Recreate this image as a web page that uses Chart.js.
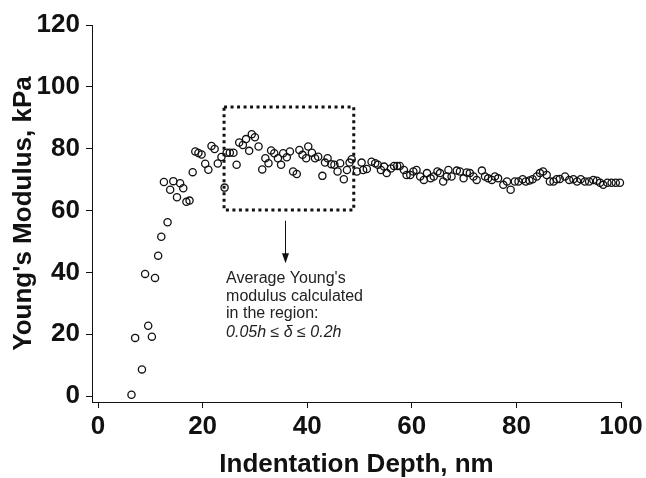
<!DOCTYPE html>
<html>
<head>
<meta charset="utf-8">
<script src="https://cdn.jsdelivr.net/npm/chart.js@4.4.1/dist/chart.umd.min.js"></script>
<style>
html, body { margin: 0; padding: 0; background: #fff; }
</style>
</head>
<body>
<canvas id="myChart" width="646" height="478"></canvas>
<script>
// indentation depth (nm) and Young's modulus (kPa)
const depth = [6.4, 8.4, 7.1, 9.6, 10.3, 9.0, 10.9, 11.5, 12.1, 13.3, 12.6, 13.8, 14.4, 15.1, 15.7, 16.3, 16.9, 17.5, 18.1, 18.6,
  19.2, 19.8, 20.5, 21.1, 21.7, 22.3, 22.9, 23.6, 24.2, 24.6, 25.2, 25.9, 26.5, 27.0, 27.7, 28.3, 28.9, 29.4, 30.0, 30.7,
  31.4, 32.0, 32.6, 33.1, 33.7, 34.4, 35.0, 35.4, 36.1, 36.7, 37.3, 38.0, 38.5, 39.1, 39.8, 40.2, 40.9, 41.5, 42.1, 42.9,
  43.4, 43.9, 44.6, 45.2, 45.8, 46.3, 47.0, 47.6, 48.1, 48.5, 49.5, 50.4, 50.7, 51.4, 52.3, 53.0, 53.5, 54.1, 54.7, 55.2,
  56.0, 56.6, 57.2, 57.7, 58.5, 59.0, 59.7, 60.3, 60.9, 61.6, 62.3, 62.9, 63.6, 64.2, 64.9, 65.4, 66.0, 66.7, 67.0, 67.6,
  68.6, 69.2, 69.9, 70.5, 71.1, 71.8, 72.4, 73.4, 74.0, 74.6, 75.3, 75.9, 76.5, 77.5, 78.2, 78.9, 79.7, 80.4, 81.2, 81.8,
  82.5, 83.1, 83.9, 84.5, 85.1, 85.8, 86.4, 87.1, 87.7, 88.3, 89.3, 90.1, 90.9, 91.6, 92.3, 93.1, 93.9, 94.7, 95.4, 96.0,
  96.6, 97.4, 98.2, 99.0, 99.8];
const modulus = [0.4, 8.6, 18.8, 22.7, 19.2, 39.5, 38.2, 45.4, 51.5, 56.2, 69.2, 66.7, 69.5, 64.3, 68.8, 67.2, 62.8, 63.2, 72.4, 79.1,
  78.6, 78.1, 75.1, 73.2, 80.9, 79.9, 75.2, 77.3, 67.4, 78.7, 78.7, 78.7, 74.8, 82.0, 81.2, 83.1, 79.3, 84.7, 83.7, 80.7,
  73.3, 76.9, 75.3, 79.4, 78.5, 76.9, 74.8, 78.5, 77.2, 79.1, 72.6, 71.8, 79.6, 78.0, 76.9, 80.7, 78.7, 76.9, 77.4, 71.2,
  75.5, 76.9, 75.0, 74.8, 72.6, 75.3, 70.1, 73.1, 75.5, 76.6, 72.6, 75.5, 73.1, 73.4, 75.8, 75.3, 74.8, 73.1, 74.2, 72.1,
  73.6, 74.4, 74.4, 74.4, 73.1, 71.5, 71.5, 72.6, 73.1, 71.0, 69.9, 72.1, 70.4, 71.0, 72.6, 72.1, 69.4, 71.0, 73.1, 71.0,
  72.9, 72.6, 70.4, 72.3, 72.1, 71.0, 69.9, 72.9, 71.0, 70.4, 69.9, 71.0, 70.4, 68.3, 69.4, 66.7, 69.4, 69.4, 70.1, 69.4,
  69.7, 70.1, 71.0, 72.1, 72.6, 71.5, 69.4, 69.4, 70.1, 70.2, 71.0, 69.9, 70.1, 69.4, 70.1, 69.4, 69.4, 69.9, 69.6, 69.0,
  68.3, 69.0, 69.0, 69.0, 69.0];

const xTicks = [0, 20, 40, 60, 80, 100];
const yTicks = [0, 20, 40, 60, 80, 100, 120];

// averaging region (data units) and the note under it
const region = { x0: 24.1, x1: 48.9, y0: 60.2, y1: 93.5 };
const arrow = { x: 35.8, from: 56.7, to: 42.9 };
const noteLines = ["Average Young's", "modulus calculated", "in the region:"];
const noteFormula = "0.05h \u2264 \u03b4 \u2264 0.2h";

const FONT = "'Liberation Sans', Arial, Helvetica, sans-serif";

const regionNote = {
  id: 'regionNote',
  afterDatasetsDraw(chart) {
    const ctx = chart.ctx;
    const x = chart.scales.x, y = chart.scales.y;
    const l = x.getPixelForValue(region.x0), r = x.getPixelForValue(region.x1);
    const t = y.getPixelForValue(region.y1), b = y.getPixelForValue(region.y0);
    ctx.save();
    ctx.strokeStyle = '#111';
    ctx.lineWidth = 3;
    ctx.setLineDash([3, 3.5]);
    ctx.strokeRect(l, t, r - l, b - t);

    // arrow
    const ax = Math.round(x.getPixelForValue(arrow.x)) + 0.5;
    const ay0 = y.getPixelForValue(arrow.from), ay1 = y.getPixelForValue(arrow.to);
    ctx.setLineDash([]);
    ctx.lineWidth = 1;
    ctx.beginPath();
    ctx.moveTo(ax, ay0);
    ctx.lineTo(ax, ay1 - 8);
    ctx.stroke();
    ctx.fillStyle = '#111';
    ctx.beginPath();
    ctx.moveTo(ax - 3.5, ay1 - 10);
    ctx.lineTo(ax + 3.5, ay1 - 10);
    ctx.lineTo(ax, ay1);
    ctx.closePath();
    ctx.fill();

    // text
    ctx.fillStyle = '#222';
    ctx.textBaseline = 'alphabetic';
    ctx.textAlign = 'left';
    ctx.font = '16px ' + FONT;
    const tx = l + 2;
    noteLines.forEach((s, i) => ctx.fillText(s, tx, ay1 + 20 + i * 17.5));
    ctx.font = 'italic 16px ' + FONT;
    ctx.fillText(noteFormula, tx, ay1 + 20 + 3 * 17.5 + 1);
    ctx.restore();
  }
};

const pts = depth.map((d, i) => ({ x: d, y: modulus[i] }));

new Chart(document.getElementById('myChart'), {
  type: 'scatter',
  data: {
    datasets: [{
      data: pts,
      pointStyle: 'circle',
      pointRadius: 3.6,
      pointBorderWidth: 1.3,
      borderColor: '#111',
      backgroundColor: 'rgba(0,0,0,0)',
      clip: false
    }]
  },
  options: {
    responsive: false,
    animation: false,
    layout: { padding: { top: 25, right: 25, left: 0, bottom: 0 } },
    plugins: { legend: { display: false }, tooltip: { enabled: false } },
    scales: {
      x: {
        type: 'linear',
        min: -1.15,
        max: 100,
        afterBuildTicks: s => { s.ticks = xTicks.map(v => ({ value: v })); },
        afterFit: s => { s.height = 76; },
        border: { display: true, color: '#111', width: 1 },
        grid: { drawOnChartArea: false, drawTicks: true, tickLength: 6, color: '#111' },
        ticks: { color: '#111', padding: 3, font: { family: FONT, size: 26, weight: 'bold' } },
        title: {
          display: true,
          text: 'Indentation Depth, nm',
          color: '#111',
          padding: { top: 0, bottom: 0 },
          font: { family: FONT, size: 26, weight: 'bold', lineHeight: 1 }
        }
      },
      y: {
        type: 'linear',
        min: -1.94,
        max: 120,
        afterBuildTicks: s => { s.ticks = yTicks.map(v => ({ value: v })); },
        afterFit: s => { s.width = 92; },
        border: { display: true, color: '#111', width: 1 },
        grid: { drawOnChartArea: false, drawTicks: true, tickLength: 6, color: '#111' },
        ticks: { color: '#111', padding: 6, font: { family: FONT, size: 26, weight: 'bold' } },
        title: {
          display: true,
          text: "Young's Modulus, kPa",
          color: '#111',
          padding: { top: 11, bottom: 0 },
          font: { family: FONT, size: 26, weight: 'bold', lineHeight: 1 }
        }
      }
    }
  },
  plugins: [regionNote]
});
</script>
</body>
</html>
